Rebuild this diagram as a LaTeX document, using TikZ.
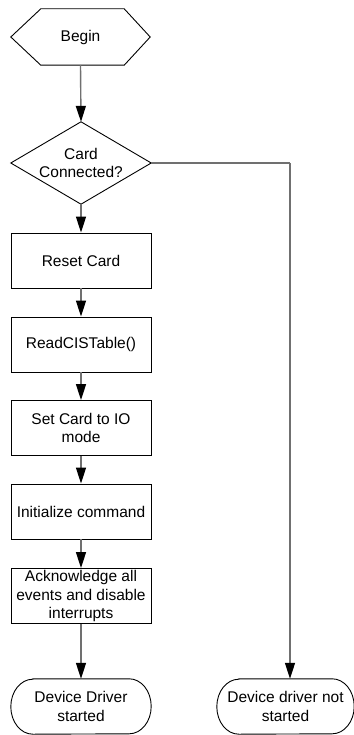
\documentclass[tikz,border=0pt]{standalone}
\usepackage{fontspec}
\setmainfont{Liberation Sans}
\usetikzlibrary{arrows.meta}
\definecolor{linegray}{HTML}{707070}
\tikzset{
  box/.style={draw=black, line width=0.9pt, minimum width=140pt, minimum height=55pt,
    inner sep=0pt, align=center, font=\fontsize{15.5}{18.6}\selectfont},
  ghost/.style={draw=none, inner sep=0pt, align=center, font=\fontsize{15.5}{18.6}\selectfont},
  outline/.style={draw=black, line width=0.9pt},
  conn/.style={draw=linegray, line width=1.4pt,
    -{Triangle[length=16pt,width=10pt,color=black]}},
  wire/.style={draw=linegray, line width=1.4pt}
}
\begin{document}
\begin{tikzpicture}[x=1pt, y=-1pt]
\useasboundingbox (0,0) rectangle (353,735);

% start hexagon
\node[ghost, minimum width=139pt, minimum height=56pt] (begin) at (80.5,37) {Begin};
\draw[outline] (begin.west) -- ([xshift=30pt]begin.north west) -- ([xshift=-26pt]begin.north east)
  -- (begin.east) -- ([xshift=-26pt]begin.south east) -- ([xshift=30pt]begin.south west) -- cycle;

% decision
\node[ghost, minimum width=140pt, minimum height=82pt] (dec) at (81,163) {Card\\Connected?};
\draw[outline] (dec.north) -- (dec.east) -- (dec.south) -- (dec.west) -- cycle;

% process steps
\node[box] (reset) at (81,260.5) {Reset Card};
\node[box] (readcis) at (81,344.5) {ReadCISTable()};
\node[box] (iomode) at (81,428) {Set Card to IO\\mode};
\node[box] (initcmd) at (81,511.5) {Initialize command};
\node[box] (ack) at (81,596) {Acknowledge all\\events and disable\\interrupts};

% terminals
\node[ghost, minimum width=140pt, minimum height=55pt] (ok) at (81,706.5) {Device Driver\\started};
\node[ghost, minimum width=137pt, minimum height=55pt] (fail) at (285.5,706.5) {Device driver not\\started};
\foreach \t in {ok, fail}{
  \draw[outline] ([xshift=22pt]\t.north west) -- ([xshift=-22pt]\t.north east)
    arc[start angle=90, end angle=-90, x radius=22pt, y radius=27.5pt]
    -- ([xshift=22pt]\t.south west)
    arc[start angle=270, end angle=90, x radius=22pt, y radius=27.5pt] -- cycle;
}

% connectors
\coordinate (turn) at (290,163);
\draw[conn] (begin.south) -- (dec.north);
\draw[conn] (dec.south) -- (reset.north);
\draw[conn] (reset.south) -- (readcis.north);
\draw[conn] (readcis.south) -- (iomode.north);
\draw[conn] (iomode.south) -- (initcmd.north);
\draw[conn] (initcmd.south) -- (ack.north);
\draw[conn] (ack.south) -- (ok.north);
\draw[wire] (dec.east) -- (turn);
\draw[conn] (turn) -- (turn |- fail.north);
\end{tikzpicture}
\end{document}
